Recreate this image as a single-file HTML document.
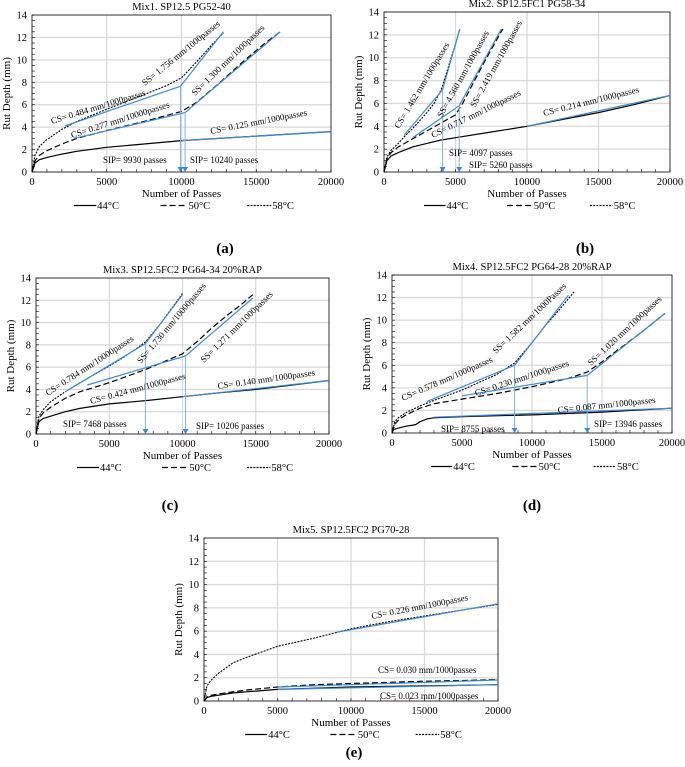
<!DOCTYPE html>
<html><head><meta charset="utf-8"><style>
html,body{margin:0;padding:0;background:#fff;}
svg{display:block;font-family:"Liberation Serif",serif;}
</style></head><body>
<svg id="fig" width="685" height="767" viewBox="0 0 685 767" xmlns="http://www.w3.org/2000/svg"></svg>
<script>
// ---------- data ----------
const yTicks=[0,2,4,6,8,10,12,14];
const xTicks=[0,5000,10000,15000,20000];
const legendLabels=["44°C","50°C","58°C"];
// Panel a
const aX44=[0,200,500,1000,2000,3000,5000,7500,10000,12500,15000,17500,20000];
const aY44=[0,0.8,1.1,1.3,1.6,1.85,2.2,2.5,2.8,3.0,3.2,3.4,3.6];
const aX50=[0,200,500,1000,2000,3000,5000,7500,10000,11000,12500,14000,15500,16600];
const aY50=[0,1.0,1.5,1.9,2.5,3.0,3.7,4.5,5.4,6.2,7.9,9.7,11.4,12.5];
const aX58=[0,200,500,1000,2000,3000,5000,7500,9000,10000,11000,12000,12800];
const aY58=[0,1.5,2.3,2.9,3.8,4.5,5.6,6.9,7.7,8.4,9.8,11.3,12.4];
const aFitX=[[2200,9930,12800],[2800,10240,16600],[10000,20000]];
const aFitY=[[4.1,7.65,12.5],[3.0,5.3,12.5],[2.8,3.6]];
const aSIP=[9930,10240];
// Panel b
const bX44=[0,200,500,1000,2000,3000,4000,5000,7500,10000,12500,15000,17500,20000];
const bY44=[0,1.0,1.4,1.7,2.2,2.5,2.8,3.0,3.5,4.0,4.6,5.2,5.9,6.7];
const bX50=[0,200,500,1000,2000,3000,4000,5000,5500,6000,7000,8300];
const bY50=[0,1.2,1.7,2.2,2.9,3.6,4.3,5.0,6.0,7.2,9.6,12.5];
const bX58=[0,200,500,1000,1500,2000,3000,3500,4000,4500,5000,5300];
const bY58=[0,1.3,1.9,2.5,3.2,3.8,5.2,6.0,7.2,9.2,11.2,12.5];
const bFitX=[[1400,4097,5300],[2000,5260,8200],[10000,20000]];
const bFitY=[[3.2,7.2,12.5],[3.0,5.8,12.5],[4.0,6.7]];
const bSIP=[4097,5260];
// Panel c
const cX44=[0,200,500,1000,2000,3000,5000,7500,10000,12500,15000,17500,20000];
const cY44=[0,1.1,1.4,1.6,2.0,2.3,2.7,3.0,3.35,3.7,4.0,4.4,4.8];
const cX50=[0,200,500,1000,2000,3000,5000,7500,10000,11000,12000,13000,14000,14800];
const cY50=[0,1.4,1.9,2.4,3.2,3.8,4.6,5.8,7.2,8.3,9.5,10.6,11.6,12.5];
const cX58=[0,200,500,1000,2000,3000,5000,6000,7000,7500,8000,8500,9000,9500,10000];
const cY58=[0,1.6,2.2,2.9,3.8,4.6,6.1,6.9,7.8,8.3,9.1,9.9,10.8,11.7,12.6];
const cFitX=[[2000,7468,10000],[3500,10206,14800],[10000,20000]];
const cFitY=[[3.8,8.1,12.5],[4.4,7.0,12.2],[3.35,4.8]];
const cSIP=[7468,10206];
// Panel d
const dX44=[0,100,500,1000,1500,1700,2000,2500,3000,5000,10000,15000,20000];
const dY44=[0,0.3,0.45,0.6,0.7,0.75,1.0,1.25,1.35,1.45,1.6,1.85,2.2];
const dX50=[0,200,500,1000,2000,3000,5000,7500,10000,12500,13946,15000,16500,18000,19500];
const dY50=[0,0.8,1.2,1.6,2.2,2.6,3.0,3.5,4.1,4.8,5.4,6.3,7.7,9.1,10.6];
const dX58=[0,200,500,1000,2000,3000,5000,7500,8755,10000,11000,12000,13000];
const dY58=[0,1.0,1.4,1.8,2.4,2.9,3.8,5.2,6.2,8.0,9.6,11.0,12.5];
const dFitX=[[2500,8755,12600],[5000,13946,19500],[3000,20000]];
const dFitY=[[2.8,6.0,12.2],[3.3,5.1,10.6],[1.4,2.2]];
const dSIP=[8755,13946];
// Panel e
const eX=[0,200,500,1000,2000,3000,5000,7500,10000,12500,15000,17500,20000];
const eY44=[0,0.3,0.4,0.5,0.7,0.8,1.0,1.1,1.2,1.25,1.3,1.35,1.4];
const eY50=[0,0.35,0.5,0.6,0.8,0.95,1.2,1.4,1.5,1.6,1.7,1.75,1.85];
const eY58=[0,1.3,1.8,2.4,3.3,3.8,4.7,5.4,6.2,6.8,7.3,7.8,8.3];
const eFitX=[[9000,20000],[5000,20000],[5000,20000]];
const eFitY=[[5.9,8.35],[1.2,1.8],[1.0,1.4]];
const eSIP=[];

// ---------- drawing ----------
const NS="http://www.w3.org/2000/svg";
const svg=document.getElementById('fig');
function el(tag,attrs,parent){const e=document.createElementNS(NS,tag);for(const k in attrs)e.setAttribute(k,attrs[k]);(parent||svg).appendChild(e);return e;}
const dashes=["none","6,3","2,1.2"];

function panel(p){
  const g=el('g',{});
  
  
  const sx=v=>p.x0+(p.x1-p.x0)*v/20000;
  const sy=v=>p.yb-(p.yb-p.yt)*v/14;
  xTicks.forEach(t=>{if(t>0&&t<20000){const l=el('line',{x1:sx(t),x2:sx(t),y1:p.yt,y2:p.yb,stroke:'#d9d9d9','stroke-width':1.3},g);
    }});
  yTicks.forEach(t=>{if(t>0&&t<14){const l=el('line',{x1:p.x0,x2:p.x1,y1:sy(t),y2:sy(t),stroke:'#d9d9d9','stroke-width':1.3},g);
    }});
  const fr=el('rect',{x:p.x0,y:p.yt,width:p.x1-p.x0,height:p.yb-p.yt,fill:'none',stroke:'#000','stroke-width':0.8},g);
  
  for(let v=0;v<=20000;v+=1000){const l=el('line',{x1:sx(v),x2:sx(v),y1:p.yb,y2:p.yb-3,stroke:'#000','stroke-width':0.6},g);
    }
  for(let v=0;v<=14;v+=0.5){const l=el('line',{x1:p.x0,x2:p.x0+3,y1:sy(v),y2:sy(v),stroke:'#000','stroke-width':0.6},g);
    }
  xTicks.forEach(t=>{const tx=el('text',{x:sx(t),y:p.yb+13,'font-size':10.5,'text-anchor':'middle'},g);tx.textContent=t;
    });
  yTicks.forEach(t=>{const tx=el('text',{x:p.x0-5,y:sy(t)+3.5,'font-size':10.5,'text-anchor':'end'},g);tx.textContent=t;
    });
  const ti=el('text',{x:(p.x0+p.x1)/2,y:p.yt-5,'font-size':10.5,'text-anchor':'middle'},g);ti.textContent=p.title;
  
  const xl=el('text',{x:(p.x0+p.x1)/2,y:p.yb+25,'font-size':11,'text-anchor':'middle'},g);xl.textContent='Number of Passes';
  
  const ycx=p.x0-22,ycy=(p.yt+p.yb)/2;
  const yl=el('text',{x:ycx,y:ycy,'font-size':11,'text-anchor':'middle',transform:`rotate(-90 ${ycx} ${ycy})`},g);yl.textContent='Rut Depth (mm)';
  
  p.series.forEach((s,i)=>{
    const d=s[0].map((xv,j)=>(j?'L':'M')+sx(xv).toFixed(1)+','+sy(s[1][j]).toFixed(1)).join(' ');
    const pa=el('path',{d:d,fill:'none',stroke:'#000','stroke-width':i==2?1.1:1.2,'stroke-dasharray':dashes[i]},g);
    
  });
  p.fitX.forEach((fx,i)=>{
    const d=fx.map((xv,j)=>(j?'L':'M')+sx(xv).toFixed(1)+','+sy(p.fitY[i][j]).toFixed(1)).join(' ');
    const pa=el('path',{d:d,fill:'none',stroke:'#3b8ad9','stroke-width':1.2},g);
    
  });
  p.sip.forEach((v,i)=>{
    const fi=p.fitX[i].indexOf(v);const yv=p.fitY[i][fi];
    const l=el('line',{x1:sx(v),x2:sx(v),y1:sy(yv),y2:sy(0)-3,stroke:'#7fb2e5','stroke-width':1},g);
    
    const tr=el('polygon',{points:`${sx(v)-3},${sy(0)-5} ${sx(v)+3},${sy(0)-5} ${sx(v)},${sy(0)}`,fill:'#3b8ad9'},g);
    
  });
  p.ann.forEach(a=>{
    const t=el('text',{x:a[1],y:a[2],'font-size':a[4]||9,transform:`rotate(${-a[3]} ${a[1]} ${a[2]})`},g);t.textContent=a[0];
    
  });
  const W=p.x1-p.x0,ly=p.yb+37;
  [[0.14,0.215],[0.43,0.52],[0.72,0.80]].forEach((f,i)=>{
    const a=p.x0+W*f[0],b=p.x0+W*f[1];
    const l=el('line',{x1:a,x2:b,y1:ly-3.5,y2:ly-3.5,stroke:'#000','stroke-width':1.2,'stroke-dasharray':dashes[i]},g);
    
    const t=el('text',{x:b+1,y:ly,'font-size':10.5},g);t.textContent=legendLabels[i];
    
  });
  const cap=el('text',{x:p.cx,y:p.cy,'font-size':15,'font-weight':'bold','text-anchor':'middle'},g);cap.textContent=p.cap;
  
}

panel({name:'panel-a',x0:32,x1:331,yt:15,yb:172,title:'Mix1. SP12.5 PG52-40',
  series:[[aX44,aY44],[aX50,aY50],[aX58,aY58]],fitX:aFitX,fitY:aFitY,sip:aSIP,cap:'(a)',cx:225,cy:253,
  ann:[['CS= 0.484 mm/1000passes',52,124,17],['CS= 0.277 mm/10000passes',72,138,17.5],['SS= 1.756 mm/1000passes',145,86,39],
       ['SS= 1.300 mm/1000passes',195,96,44],['CS= 0.125 mm/1000passes',211,134,11],['SIP= 9930 passes',103,163,0],['SIP= 10240 passes',190,163,0]]});
panel({name:'panel-b',x0:384,x1:670,yt:12,yb:172,title:'Mix2. SP12.5FC1 PG58-34',
  series:[[bX44,bY44],[bX50,bY50],[bX58,bY58]],fitX:bFitX,fitY:bFitY,sip:bSIP,cap:'(b)',cx:585,cy:253,
  ann:[['CS= 1.462 mm/1000passes',399,129,59],['SS= 4.560 mm/1000passes',442,118,61],['SS= 2.419 mm/1000passes',475,108,61],
       ['CS= 0.717 mm/1000passes',433,138,26],['CS= 0.214 mm/1000passes',544,116,14],['SIP= 4097 passes',449,156,0],['SIP= 5260 passes',469,168,0]]});
panel({name:'panel-c',x0:36,x1:329,yt:278,yb:434,title:'Mix3. SP12.5FC2 PG64-34 20%RAP',
  series:[[cX44,cY44],[cX50,cY50],[cX58,cY58]],fitX:cFitX,fitY:cFitY,sip:cSIP,cap:'(c)',cx:170,cy:510,
  ann:[['CS= 0.784 mm/10000passes',48,396,33],['SS= 1.730 mm/10000passes',141,364,50],['SS= 1.271 mm/1000passes',204,363,44.5],
       ['CS= 0.424 mm/1000passes',91,404,15],['CS= 0.140 mm/1000passes',218,389,8],['SIP= 7468 passes',63,427,0],['SIP= 10206 passes',196,429,0]]});
panel({name:'panel-d',x0:392,x1:672,yt:275,yb:433,title:'Mix4. SP12.5FC2 PG64-28 20%RAP',
  series:[[dX44,dY44],[dX50,dY50],[dX58,dY58]],fitX:dFitX,fitY:dFitY,sip:dSIP,cap:'(d)',cx:532,cy:510,
  ann:[['CS= 0.578 mm/1000passes',403,401,23.5],['SS= 1.582 mm/1000Passes',496,354,43.5],['SS= 1.020 mm/1000passes',591,366,43],
       ['CS= 0.230 mm/1000passes',476,396,18],['CS= 0.087 mm/1000passes',558,413,6],['SIP= 8755 passes',441,432,0],['SIP= 13946 passes',594,427,0]]});
panel({name:'panel-e',x0:204,x1:498,yt:538,yb:701,title:'Mix5. SP12.5FC2 PG70-28',
  series:[[eX,eY44],[eX,eY50],[eX,eY58]],fitX:eFitX,fitY:eFitY,sip:eSIP,cap:'(e)',cx:354,cy:757,
  ann:[['CS= 0.226 mm/1000passes',372,619,11],['CS= 0.030 mm/1000passes',378,673,0],['CS= 0.023 mm/1000passes',380,699,0]]});
</script>
</body></html>
